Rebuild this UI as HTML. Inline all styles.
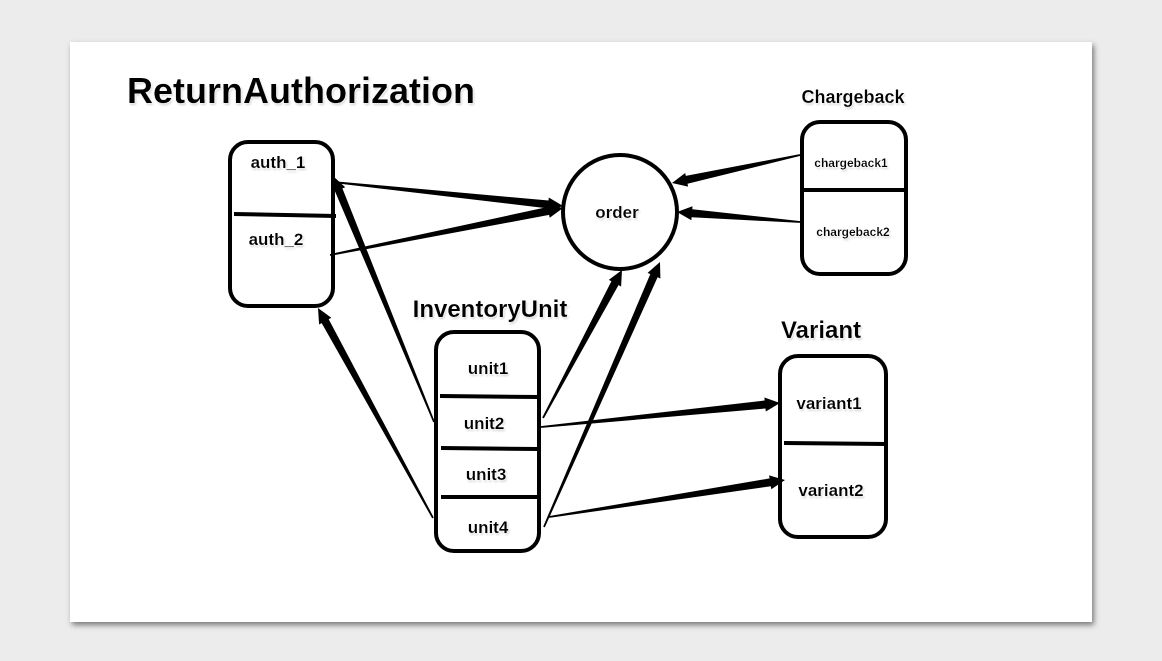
<!DOCTYPE html>
<html><head><meta charset="utf-8"><style>
html,body{margin:0;padding:0;width:1162px;height:661px;overflow:hidden;background:#ececec;}
svg{position:absolute;left:0;top:0}
text{font-family:"Liberation Sans",Arial,sans-serif;font-weight:bold;fill:#000;text-anchor:middle;}
</style></head><body>
<svg width="1162" height="661" viewBox="0 0 1162 661" xmlns="http://www.w3.org/2000/svg">
<defs>
<filter id="sh" x="-5%" y="-5%" width="110%" height="115%"><feGaussianBlur stdDeviation="3"/></filter>
<filter id="glow"><feMorphology operator="dilate" radius="1.2" in="SourceAlpha" result="d"/><feGaussianBlur stdDeviation="1" in="d" result="b"/><feFlood flood-color="#fff"/><feComposite in2="b" operator="in" result="w"/><feOffset dx="1" dy="1.5" in="SourceAlpha" result="o"/><feGaussianBlur in="o" stdDeviation="1" result="ob"/><feFlood flood-color="#999"/><feComposite in2="ob" operator="in" result="g"/><feMerge><feMergeNode in="g"/><feMergeNode in="w"/><feMergeNode in="SourceGraphic"/></feMerge></filter>
</defs>
<rect x="72" y="45" width="1022" height="580" fill="#777" filter="url(#sh)"/>
<rect x="70" y="42" width="1022" height="580" fill="#fff"/>
<g fill="none" stroke="#000" stroke-width="4">
<rect x="230" y="142" width="103" height="164" rx="18"/>
<line x1="234" y1="214" x2="336" y2="216"/>
<circle cx="620" cy="212" r="57"/>
<rect x="802" y="122" width="104" height="152" rx="18"/>
<line x1="802" y1="190" x2="906" y2="190"/>
<rect x="436" y="332" width="103" height="219" rx="18"/>
<line x1="440" y1="396" x2="538" y2="397"/>
<line x1="441" y1="448" x2="538" y2="449"/>
<line x1="441" y1="497" x2="541" y2="497"/>
<rect x="780" y="356" width="106" height="181" rx="18"/>
<line x1="784" y1="443" x2="886" y2="444"/>
</g>
<g id="arrows" fill="#000"></g>
<g filter="url(#glow)">
<text x="301" y="103" font-size="36">ReturnAuthorization</text>
<text x="853" y="103" font-size="18">Chargeback</text>
<text x="490" y="317" font-size="24">InventoryUnit</text>
<text x="821" y="338" font-size="24">Variant</text>
<text x="278" y="168" font-size="17">auth_1</text>
<text x="276" y="245" font-size="17">auth_2</text>
<text x="617" y="218" font-size="17">order</text>
<text x="851" y="167" font-size="12">chargeback1</text>
<text x="853" y="236" font-size="12">chargeback2</text>
<text x="488" y="374" font-size="17">unit1</text>
<text x="484" y="429" font-size="17">unit2</text>
<text x="486" y="480" font-size="17">unit3</text>
<text x="488" y="533" font-size="17">unit4</text>
<text x="829" y="409" font-size="17">variant1</text>
<text x="831" y="496" font-size="17">variant2</text>
</g>
</svg>
<script>
var A=[[333,182,563,206],[330,255,563,208],[434,422,333,176],[433,518,318,308],[543,418,622,270],[544,527,660,262],[541,427,780,403],[549,517,785,480],[800,155,672,183],[800,222,677,212]];
var g=document.getElementById('arrows'),s='';
A.forEach(function(a){var x1=a[0],y1=a[1],x2=a[2],y2=a[3],dx=x2-x1,dy=y2-y1,L=Math.hypot(dx,dy),ux=dx/L,uy=dy/L,nx=-uy,ny=ux;
var hl=15,hw=7,bw=4,tw=0.9;var bx=x2-ux*hl,by=y2-uy*hl;
var p=[[x1+nx*tw,y1+ny*tw],[bx+nx*bw,by+ny*bw],[bx+nx*hw,by+ny*hw],[x2,y2],[bx-nx*hw,by-ny*hw],[bx-nx*bw,by-ny*bw],[x1-nx*tw,y1-ny*tw]];
s+='<polygon points="'+p.map(function(q){return q[0].toFixed(1)+','+q[1].toFixed(1)}).join(' ')+'"/>';});
g.innerHTML=s;
</script>
</body></html>
